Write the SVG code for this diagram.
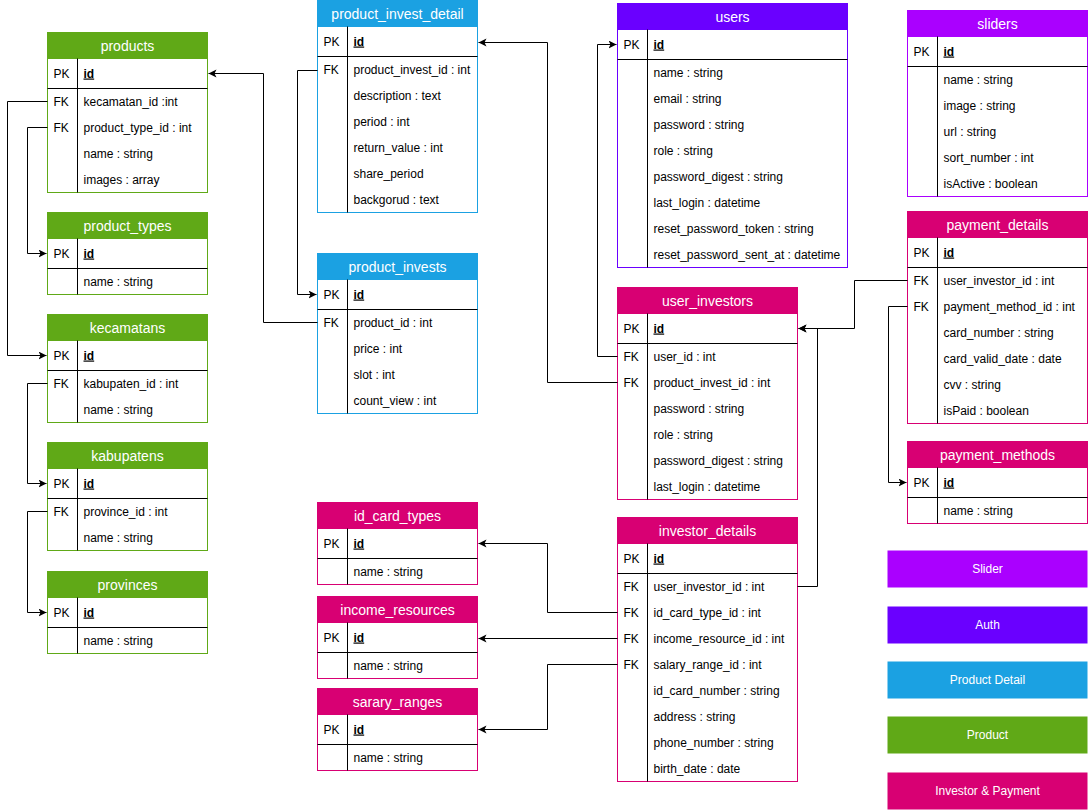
<svg xmlns="http://www.w3.org/2000/svg" width="1088" height="810" viewBox="0 0 1088 810">
  <style>
    text { font-family: "Liberation Sans", Arial, Helvetica, sans-serif; fill: #000; }
    .h { font-size: 14px; fill: #fff; text-anchor: middle; }
    .k, .f { font-size: 12px; }
    .pk { font-size: 12px; font-weight: bold; text-decoration: underline; }
    .lg { font-size: 12px; fill: #fff; text-anchor: middle; }
    .sep { stroke: #000; stroke-width: 1; }
    .body { fill: #fff; stroke-width: 1; }
    .green { stroke: #60a917; } .greenF { fill: #60a917; stroke: #60a917; }
    .blue { stroke: #1ba1e2; } .blueF { fill: #1ba1e2; stroke: #1ba1e2; }
    .auth { stroke: #6a00ff; } .authF { fill: #6a00ff; stroke: #6a00ff; }
    .sl { stroke: #aa00ff; } .slF { fill: #aa00ff; stroke: #aa00ff; }
    .pink { stroke: #d80073; } .pinkF { fill: #d80073; stroke: #d80073; }
    .conn path { fill: none; stroke: #000; stroke-width: 1; marker-end: url(#arr); }
  </style>
  <defs>
    <marker id="arr" markerWidth="10" markerHeight="10" refX="8" refY="4" orient="auto" markerUnits="userSpaceOnUse">
      <path d="M0,0 L8,4 L0,8 L2,4 z" fill="#000"/>
    </marker>
  </defs>
  <rect width="1088" height="810" fill="#fff"/>
  <g transform="translate(0.5,0.5)">

    <!-- Product tables -->
    <g id="products">
      <rect x="47" y="32" width="160" height="160" class="body green"/>
      <rect x="47" y="32" width="160" height="26" class="greenF"/>
      <line x1="47" y1="88" x2="207" y2="88" class="sep"/>
      <line x1="77" y1="58" x2="77" y2="192" class="sep"/>
      <text class="h" x="127" y="50">products</text>
      <text class="k" x="53" y="77">PK</text><text class="pk" x="83" y="77">id</text>
      <text class="k" x="53" y="105">FK</text><text class="f" x="83" y="105">kecamatan_id :int</text>
      <text class="k" x="53" y="131">FK</text><text class="f" x="83" y="131">product_type_id : int</text>
      <text class="f" x="83" y="157">name : string</text>
      <text class="f" x="83" y="183">images : array</text>
    </g>
    <g id="product_types">
      <rect x="47" y="212" width="160" height="82" class="body green"/>
      <rect x="47" y="212" width="160" height="26" class="greenF"/>
      <line x1="47" y1="268" x2="207" y2="268" class="sep"/>
      <line x1="77" y1="238" x2="77" y2="294" class="sep"/>
      <text class="h" x="127" y="230">product_types</text>
      <text class="k" x="53" y="257">PK</text><text class="pk" x="83" y="257">id</text>
      <text class="f" x="83" y="285">name : string</text>
    </g>
    <g id="kecamatans">
      <rect x="47" y="314" width="160" height="108" class="body green"/>
      <rect x="47" y="314" width="160" height="26" class="greenF"/>
      <line x1="47" y1="370" x2="207" y2="370" class="sep"/>
      <line x1="77" y1="340" x2="77" y2="422" class="sep"/>
      <text class="h" x="127" y="332">kecamatans</text>
      <text class="k" x="53" y="359">PK</text><text class="pk" x="83" y="359">id</text>
      <text class="k" x="53" y="387">FK</text><text class="f" x="83" y="387">kabupaten_id : int</text>
      <text class="f" x="83" y="413">name : string</text>
    </g>
    <g id="kabupatens">
      <rect x="47" y="442" width="160" height="108" class="body green"/>
      <rect x="47" y="442" width="160" height="26" class="greenF"/>
      <line x1="47" y1="498" x2="207" y2="498" class="sep"/>
      <line x1="77" y1="468" x2="77" y2="550" class="sep"/>
      <text class="h" x="127" y="460">kabupatens</text>
      <text class="k" x="53" y="487">PK</text><text class="pk" x="83" y="487">id</text>
      <text class="k" x="53" y="515">FK</text><text class="f" x="83" y="515">province_id : int</text>
      <text class="f" x="83" y="541">name : string</text>
    </g>
    <g id="provinces">
      <rect x="47" y="571" width="160" height="82" class="body green"/>
      <rect x="47" y="571" width="160" height="26" class="greenF"/>
      <line x1="47" y1="627" x2="207" y2="627" class="sep"/>
      <line x1="77" y1="597" x2="77" y2="653" class="sep"/>
      <text class="h" x="127" y="589">provinces</text>
      <text class="k" x="53" y="616">PK</text><text class="pk" x="83" y="616">id</text>
      <text class="f" x="83" y="644">name : string</text>
    </g>

    <!-- Product detail tables -->
    <g id="product_invest_detail">
      <rect x="317" y="0" width="160" height="212" class="body blue"/>
      <rect x="317" y="0" width="160" height="26" class="blueF"/>
      <line x1="317" y1="56" x2="477" y2="56" class="sep"/>
      <line x1="347" y1="26" x2="347" y2="212" class="sep"/>
      <text class="h" x="397" y="18">product_invest_detail</text>
      <text class="k" x="323" y="45">PK</text><text class="pk" x="353" y="45">id</text>
      <text class="k" x="323" y="73">FK</text><text class="f" x="353" y="73">product_invest_id : int</text>
      <text class="f" x="353" y="99">description : text</text>
      <text class="f" x="353" y="125">period : int</text>
      <text class="f" x="353" y="151">return_value : int</text>
      <text class="f" x="353" y="177">share_period</text>
      <text class="f" x="353" y="203">backgorud : text</text>
    </g>
    <g id="product_invests">
      <rect x="317" y="253" width="160" height="160" class="body blue"/>
      <rect x="317" y="253" width="160" height="26" class="blueF"/>
      <line x1="317" y1="309" x2="477" y2="309" class="sep"/>
      <line x1="347" y1="279" x2="347" y2="413" class="sep"/>
      <text class="h" x="397" y="271">product_invests</text>
      <text class="k" x="323" y="298">PK</text><text class="pk" x="353" y="298">id</text>
      <text class="k" x="323" y="326">FK</text><text class="f" x="353" y="326">product_id : int</text>
      <text class="f" x="353" y="352">price : int</text>
      <text class="f" x="353" y="378">slot : int</text>
      <text class="f" x="353" y="404">count_view : int</text>
    </g>

    <!-- Auth -->
    <g id="users">
      <rect x="617" y="3" width="230" height="264" class="body auth"/>
      <rect x="617" y="3" width="230" height="26" class="authF"/>
      <line x1="617" y1="59" x2="847" y2="59" class="sep"/>
      <line x1="647" y1="29" x2="647" y2="267" class="sep"/>
      <text class="h" x="732" y="21">users</text>
      <text class="k" x="623" y="48">PK</text><text class="pk" x="653" y="48">id</text>
      <text class="f" x="653" y="76">name : string</text>
      <text class="f" x="653" y="102">email : string</text>
      <text class="f" x="653" y="128">password : string</text>
      <text class="f" x="653" y="154">role : string</text>
      <text class="f" x="653" y="180">password_digest : string</text>
      <text class="f" x="653" y="206">last_login : datetime</text>
      <text class="f" x="653" y="232">reset_password_token : string</text>
      <text class="f" x="653" y="258">reset_password_sent_at : datetime</text>
    </g>

    <!-- Investor & payment tables -->
    <g id="user_investors">
      <rect x="617" y="287" width="180" height="212" class="body pink"/>
      <rect x="617" y="287" width="180" height="26" class="pinkF"/>
      <line x1="617" y1="343" x2="797" y2="343" class="sep"/>
      <line x1="647" y1="313" x2="647" y2="499" class="sep"/>
      <text class="h" x="707" y="305">user_investors</text>
      <text class="k" x="623" y="332">PK</text><text class="pk" x="653" y="332">id</text>
      <text class="k" x="623" y="360">FK</text><text class="f" x="653" y="360">user_id : int</text>
      <text class="k" x="623" y="386">FK</text><text class="f" x="653" y="386">product_invest_id : int</text>
      <text class="f" x="653" y="412">password : string</text>
      <text class="f" x="653" y="438">role : string</text>
      <text class="f" x="653" y="464">password_digest : string</text>
      <text class="f" x="653" y="490">last_login : datetime</text>
    </g>
    <g id="investor_details">
      <rect x="617" y="517" width="180" height="264" class="body pink"/>
      <rect x="617" y="517" width="180" height="26" class="pinkF"/>
      <line x1="617" y1="573" x2="797" y2="573" class="sep"/>
      <line x1="647" y1="543" x2="647" y2="781" class="sep"/>
      <text class="h" x="707" y="535">investor_details</text>
      <text class="k" x="623" y="562">PK</text><text class="pk" x="653" y="562">id</text>
      <text class="k" x="623" y="590">FK</text><text class="f" x="653" y="590">user_investor_id : int</text>
      <text class="k" x="623" y="616">FK</text><text class="f" x="653" y="616">id_card_type_id : int</text>
      <text class="k" x="623" y="642">FK</text><text class="f" x="653" y="642">income_resource_id : int</text>
      <text class="k" x="623" y="668">FK</text><text class="f" x="653" y="668">salary_range_id : int</text>
      <text class="f" x="653" y="694">id_card_number : string</text>
      <text class="f" x="653" y="720">address : string</text>
      <text class="f" x="653" y="746">phone_number : string</text>
      <text class="f" x="653" y="772">birth_date : date</text>
    </g>
    <g id="id_card_types">
      <rect x="317" y="502" width="160" height="82" class="body pink"/>
      <rect x="317" y="502" width="160" height="26" class="pinkF"/>
      <line x1="317" y1="558" x2="477" y2="558" class="sep"/>
      <line x1="347" y1="528" x2="347" y2="584" class="sep"/>
      <text class="h" x="397" y="520">id_card_types</text>
      <text class="k" x="323" y="547">PK</text><text class="pk" x="353" y="547">id</text>
      <text class="f" x="353" y="575">name : string</text>
    </g>
    <g id="income_resources">
      <rect x="317" y="596" width="160" height="82" class="body pink"/>
      <rect x="317" y="596" width="160" height="26" class="pinkF"/>
      <line x1="317" y1="652" x2="477" y2="652" class="sep"/>
      <line x1="347" y1="622" x2="347" y2="678" class="sep"/>
      <text class="h" x="397" y="614">income_resources</text>
      <text class="k" x="323" y="641">PK</text><text class="pk" x="353" y="641">id</text>
      <text class="f" x="353" y="669">name : string</text>
    </g>
    <g id="sarary_ranges">
      <rect x="317" y="688" width="160" height="82" class="body pink"/>
      <rect x="317" y="688" width="160" height="26" class="pinkF"/>
      <line x1="317" y1="744" x2="477" y2="744" class="sep"/>
      <line x1="347" y1="714" x2="347" y2="770" class="sep"/>
      <text class="h" x="397" y="706">sarary_ranges</text>
      <text class="k" x="323" y="733">PK</text><text class="pk" x="353" y="733">id</text>
      <text class="f" x="353" y="761">name : string</text>
    </g>

    <!-- Slider -->
    <g id="sliders">
      <rect x="907" y="10" width="180" height="186" class="body sl"/>
      <rect x="907" y="10" width="180" height="26" class="slF"/>
      <line x1="907" y1="66" x2="1087" y2="66" class="sep"/>
      <line x1="937" y1="36" x2="937" y2="196" class="sep"/>
      <text class="h" x="997" y="28">sliders</text>
      <text class="k" x="913" y="55">PK</text><text class="pk" x="943" y="55">id</text>
      <text class="f" x="943" y="83">name : string</text>
      <text class="f" x="943" y="109">image : string</text>
      <text class="f" x="943" y="135">url : string</text>
      <text class="f" x="943" y="161">sort_number : int</text>
      <text class="f" x="943" y="187">isActive : boolean</text>
    </g>
    <g id="payment_details">
      <rect x="907" y="211" width="180" height="212" class="body pink"/>
      <rect x="907" y="211" width="180" height="26" class="pinkF"/>
      <line x1="907" y1="267" x2="1087" y2="267" class="sep"/>
      <line x1="937" y1="237" x2="937" y2="423" class="sep"/>
      <text class="h" x="997" y="229">payment_details</text>
      <text class="k" x="913" y="256">PK</text><text class="pk" x="943" y="256">id</text>
      <text class="k" x="913" y="284">FK</text><text class="f" x="943" y="284">user_investor_id : int</text>
      <text class="k" x="913" y="310">FK</text><text class="f" x="943" y="310">payment_method_id : int</text>
      <text class="f" x="943" y="336">card_number : string</text>
      <text class="f" x="943" y="362">card_valid_date : date</text>
      <text class="f" x="943" y="388">cvv : string</text>
      <text class="f" x="943" y="414">isPaid : boolean</text>
    </g>
    <g id="payment_methods">
      <rect x="907" y="441" width="180" height="82" class="body pink"/>
      <rect x="907" y="441" width="180" height="26" class="pinkF"/>
      <line x1="907" y1="497" x2="1087" y2="497" class="sep"/>
      <line x1="937" y1="467" x2="937" y2="523" class="sep"/>
      <text class="h" x="997" y="459">payment_methods</text>
      <text class="k" x="913" y="486">PK</text><text class="pk" x="943" y="486">id</text>
      <text class="f" x="943" y="514">name : string</text>
    </g>

    <!-- Legend -->
    <g id="legend">
      <rect x="887" y="550" width="200" height="37" fill="#aa00ff"/>
      <text class="lg" x="987" y="572">Slider</text>
      <rect x="887" y="606" width="200" height="37" fill="#6a00ff"/>
      <text class="lg" x="987" y="628">Auth</text>
      <rect x="887" y="661" width="200" height="37" fill="#1ba1e2"/>
      <text class="lg" x="987" y="683">Product Detail</text>
      <rect x="887" y="716" width="200" height="37" fill="#60a917"/>
      <text class="lg" x="987" y="738">Product</text>
      <rect x="887" y="772" width="200" height="37" fill="#d80073"/>
      <text class="lg" x="987" y="794">Investor &amp; Payment</text>
    </g>

    <!-- Foreign key relations -->
    <g id="connectors" class="conn">
      <path d="M47,101 H7 V355 H46"/>
      <path d="M47,127 H27 V253 H46"/>
      <path d="M47,383 H27 V483 H46"/>
      <path d="M47,511 H27 V612 H46"/>
      <path d="M317,322 H263 V73 H208"/>
      <path d="M317,70 H297 V294 H316"/>
      <path d="M617,382 H547 V42 H478"/>
      <path d="M617,356 H597 V44 H616"/>
      <path d="M907,280 H854 V328 H798"/>
      <path d="M907,306 H888 V482 H906"/>
      <path d="M797,586 H817 V328 H798"/>
      <path d="M617,612 H547 V543 H478"/>
      <path d="M617,638 H478"/>
      <path d="M617,664 H547 V729 H478"/>
    </g>
  </g>
</svg>
